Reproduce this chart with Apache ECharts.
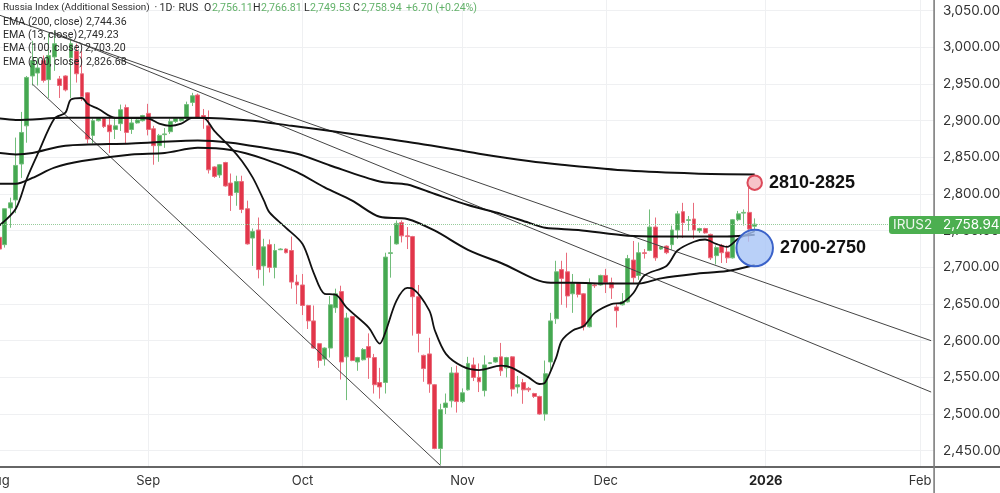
<!DOCTYPE html>
<html>
<head>
<meta charset="utf-8">
<style>
  html, body { margin: 0; padding: 0; background: #fff; }
  #chart { width: 1000px; height: 493px; }
</style>
<script src="https://cdn.jsdelivr.net/npm/echarts@6/dist/echarts.min.js"></script>
</head>
<body>
<div id="chart"></div>
<script>
// month ticks on the daily axis
const tickBars = [0, 28, 56, 85, 111, 140, 168];
const tickNames = ['Aug', 'Sep', 'Oct', 'Nov', 'Dec', '2026', 'Feb'];
const barCount = 171;
const priceTicks = [2450, 2500, 2550, 2600, 2650, 2700, 2750, 2800, 2850, 2900, 2950, 3000, 3050];

// daily candles, bar 1 to bar 138
const opens = [2741,2731,2781,2792,2841,2893,2961,2965,2982,2956,
  2987,2957,2961,2986,2995,2964,2938,2880,2900,2903,
  2894,2888,2896,2918,2888,2897,2900,2910,2889,2866,
  2881,2885,2899,2900,2903,2925,2935,2907,2893,2837,
  2826,2843,2815,2802,2817,2780,2740,2751,2702,2731,
  2700,2724,2725,2723,2680,2676,2648,2627,2596,2575,
  2590,2645,2667,2578,2633,2571,2574,2592,2577,2543,
  2543,2719,2732,2761,2743,2742,2660,2580,2582,2540,
  2453,2509,2518,2556,2517,2533,2567,2550,2532,2569,
  2571,2578,2563,2578,2537,2543,2535,2528,2524,2500,
  2571,2630,2697,2694,2664,2679,2664,2619,2676,2676,
  2689,2679,2646,2649,2653,2710,2689,2720,2723,2755,
  2725,2729,2731,2751,2776,2764,2766,2750,2753,2745,
  2716,2730,2721,2713,2765,2774,2775,2756.11];
const closes = [2725,2780,2788,2839,2884,2959,2982,2972,2955,2989,
  3005,2948,2942,3005,2964,2933,2875,2900,2904,2892,
  2885,2893,2915,2884,2897,2901,2907,2888,2866,2880,
  2882,2899,2903,2904,2922,2934,2904,2903,2833,2824,
  2840,2811,2798,2817,2779,2732,2749,2697,2728,2700,
  2723,2725,2720,2680,2676,2648,2627,2590,2573,2590,
  2649,2664,2571,2631,2573,2577,2588,2577,2540,2537,
  2714,2720,2760,2743,2742,2660,2610,2562,2541,2453,
  2506,2515,2556,2517,2529,2569,2550,2544,2567,2570,
  2577,2559,2577,2534,2540,2533,2533,2524,2500,2555,
  2627,2694,2685,2661,2679,2663,2619,2678,2675,2689,
  2679,2672,2641,2653,2712,2686,2720,2719,2755,2713,
  2728,2720,2751,2773,2761,2765,2751,2753,2747,2713,
  2727,2720,2713,2765,2773,2775,2752.24,2758.94];
const lows = [2709,2727,2754,2774,2822,2870,2948,2948,2952,2931,
  2968,2931,2940,2931,2952,2927,2869,2869,2899,2890,
  2856,2875,2886,2869,2882,2896,2899,2880,2840,2844,
  2863,2882,2897,2899,2900,2920,2903,2889,2828,2822,
  2822,2810,2777,2784,2774,2731,2702,2685,2675,2693,
  2685,2724,2719,2671,2650,2635,2616,2589,2563,2566,
  2577,2638,2547,2519,2572,2559,2573,2548,2528,2521,
  2528,2686,2731,2734,2725,2607,2584,2544,2529,2452,
  2431,2500,2509,2502,2515,2532,2545,2530,2524,2568,
  2570,2552,2550,2524,2528,2514,2530,2522,2499,2491,
  2559,2623,2649,2645,2638,2659,2614,2618,2672,2675,
  2665,2657,2618,2648,2652,2679,2683,2712,2722,2709,
  2724,2718,2724,2739,2740,2750,2739,2747,2746,2710,
  2704,2706,2706,2712,2763,2757,2735,2749.53];
const highs = [2742,2780,2795,2877,2912,2961,3009,2986,2989,3019,
  3023,2961,2962,3012,3005,2995,2939,2903,2905,2904,
  2904,2905,2922,2922,2903,2904,2908,2923,2893,2882,
  2890,2903,2904,2905,2926,2938,2937,2916,2914,2838,
  2841,2844,2828,2825,2825,2791,2753,2768,2739,2738,
  2732,2726,2726,2742,2690,2691,2649,2648,2597,2591,
  2661,2671,2675,2638,2634,2578,2590,2610,2582,2563,
  2720,2743,2764,2764,2755,2743,2676,2581,2604,2541,
  2514,2528,2564,2566,2535,2578,2577,2569,2580,2571,
  2578,2597,2578,2579,2552,2548,2537,2529,2525,2573,
  2638,2709,2709,2720,2691,2680,2665,2685,2678,2690,
  2698,2686,2650,2665,2717,2736,2734,2725,2779,2768,
  2729,2730,2757,2777,2788,2770,2788,2754,2754,2746,
  2730,2732,2730,2766,2777,2779,2815,2766.81];

// EMA lines as [bar, value]
const ema13 = [[1,2757],[4,2780],[6,2821],[8,2855],[11,2903],[13,2911],[14,2929],[16,2931],[17,2923],[19,2916],
  [22,2904],[24,2904],[28,2903],[30,2896],[32,2893],[34,2896],[36,2904],[38,2904],[40,2886],[43,2863],
  [45,2845],[47,2822],[49,2791],[50,2775],[53,2754],[56,2732],[58,2693],[60,2664],[62,2663],[64,2645],
  [68,2618],[70,2596],[71,2611],[73,2654],[75,2672],[76,2671],[79,2641],[80,2614],[82,2582],[85,2565],
  [88,2560],[92,2566],[94,2563],[97,2550],[99,2541],[100,2543],[102,2577],[103,2600],[105,2614],[107,2620],
  [109,2638],[112,2650],[114,2652],[116,2665],[118,2689],[122,2702],[124,2723],[127,2735],[129,2738],[131,2732],
  [133,2728],[135,2739],[138,2749.23]];
const ema100 = [[1,2814],[4,2814],[7,2822],[11,2836],[16,2845],[25,2854],[31,2856],[37,2863],[43,2860],[49,2848],
  [55,2830],[60,2809],[65,2791],[70,2769],[75,2766],[80,2750],[86,2724],[92,2706],[101,2679],[105,2679],
  [112,2678],[117,2678],[121,2685],[127,2691],[133,2695],[138,2703.20]];
const ema200 = [[1,2856],[4,2854],[7,2856],[13,2866],[25,2869],[37,2873],[43,2870],[49,2863],[55,2855],[61,2839],
  [70,2817],[75,2813],[80,2800],[86,2785],[92,2773],[97,2761],[100,2754],[106,2751],[115,2743],[121,2742],
  [133,2742],[138,2744.36]];
const ema500 = [[1,2903],[4,2901],[13,2904],[37,2904],[47,2900],[54,2893],[65,2882],[77,2869],[88,2855],[97,2845],
  [103,2840],[115,2832],[127,2828],[138,2826.68]];

// drawn trend lines
const trendUpper = [[1,3044],[170,2600]];
const trendMiddle = [[11,3020],[170,2530]];
const trendLower = [[7,2950],[81,2430]];

const lastClose = 2758.94;
const resistanceZone = [[138,2815.5]];
const supportZone = [[138,2726.4]];

const categories = [];
for (let i = 0; i < barCount; i++) {
  const t = tickBars.indexOf(i);
  categories.push(t >= 0 ? tickNames[t] : '');
}
// first bar sits off the left edge with nothing drawn
const candles = ['-'].concat(opens.map((o, i) => [o, closes[i], lows[i], highs[i]]));

const isMonthTick = index => tickBars.indexOf(index) >= 0;
const FONT = 'Inter, "Liberation Sans", sans-serif';
const LEGEND_FAMILY = 'Roboto, "Liberation Sans", sans-serif';
const GREEN = '#45a851';
const RED = '#e2364a';

const emaLine = (name, data, width) => ({
  name, type: 'line', data, showSymbol: false, smooth: 0.3, silent: true, z: 4,
  lineStyle: { color: '#111', width }
});
const trendLine = (name, data) => ({
  name, type: 'line', data, showSymbol: false, silent: true, z: 3,
  lineStyle: { color: '#444', width: 1 }
});
const zone = (name, data, size, fill, stroke, text, distance) => ({
  name, type: 'scatter', data, symbolSize: size, silent: true, z: 6,
  itemStyle: { color: fill, borderColor: stroke, borderWidth: 2, opacity: 1 },
  label: {
    show: true, position: 'right', distance, formatter: text,
    color: '#111', fontFamily: '"Liberation Sans", Arial, sans-serif', fontWeight: 'bold', fontSize: 18
  }
});

const legendRows = [
  ['EMA (200, close)', '2,744.36', 22, 86],
  ['EMA (13, close)', '2,749.23', 35, 78],
  ['EMA (100, close)', '2,703.20', 48, 85],
  ['EMA (500, close)', '2,826.68', 62, 86]
];
const headerParts = [
  ['Russia Index (Additional Session)', 3, '#2b2b2b', 9.9],
  ['·', 154.5, '#2b2b2b'], ['1D', 159.5, '#2b2b2b'], ['·', 172.5, '#2b2b2b'], ['RUS', 178.5, '#2b2b2b'],
  ['O', 204, '#2b2b2b'], ['2,756.11', 212, '#63b26a'],
  ['H', 253, '#2b2b2b'], ['2,766.81', 261, '#63b26a'],
  ['L', 304, '#2b2b2b'], ['2,749.53', 310, '#63b26a'],
  ['C', 353, '#2b2b2b'], ['2,758.94', 361, '#63b26a'],
  ['+6.70 (+0.24%)', 406, '#63b26a']
];
const label = (text, x, y, color, size) => ({
  type: 'text', x, y, z: 20, silent: true,
  style: { text, fill: color, font: (size || 10.6) + 'px ' + LEGEND_FAMILY, textVerticalAlign: 'middle' }
});

const graphics = [
  { type: 'rect', z: 10, silent: true, shape: { x: 0, y: 466.3, width: 1000, height: 1.4 }, style: { fill: '#333' } },
  { type: 'rect', z: 10, silent: true, shape: { x: 933.3, y: 0, width: 1.6, height: 493 }, style: { fill: '#7d7d7d' } },
  { type: 'rect', z: 12, silent: true, shape: { x: 889, y: 216, width: 111, height: 18, r: [3, 0, 0, 3] }, style: { fill: '#4caf50' } },
  { type: 'text', x: 893, y: 225, z: 13, silent: true,
    style: { text: 'IRUS2', fill: '#eef7ee', font: '13.5px ' + FONT, textVerticalAlign: 'middle' } },
  { type: 'text', x: 943, y: 225, z: 13, silent: true,
    style: { text: '2,758.94', fill: '#fff', font: '13.5px ' + FONT, textVerticalAlign: 'middle' } }
];
headerParts.forEach(p => graphics.push(label(p[0], p[1], 8, p[2], p[3])));
legendRows.forEach(r => {
  graphics.push(label(r[0], 3, r[2], '#2b2b2b'));
  graphics.push(label(r[1], r[3], r[2], '#2b2b2b'));
});

const chart = echarts.init(document.getElementById('chart'), null, { renderer: 'canvas' });
chart.setOption({
  animation: false,
  backgroundColor: '#fff',
  // the first bars run past the left edge, as in a panned chart
  grid: { left: -9, right: 66.1, top: 0, bottom: 26, outerBoundsMode: 'none' },
  xAxis: {
    type: 'category',
    data: categories,
    boundaryGap: true,
    axisLine: { show: false },
    axisTick: { show: false },
    splitLine: { show: true, interval: isMonthTick, alignWithLabel: true, lineStyle: { color: '#eff0f2', width: 1 } },
    axisLabel: {
      interval: isMonthTick,
      margin: 8,
      fontFamily: FONT,
      fontSize: 13,
      color: '#333',
      // leading spaces nudge the cut-off Aug label to the right
      formatter: value => value === '2026' ? '{b|2026}' : (value === 'Aug' ? '  Aug' : value),
      rich: { b: { fontFamily: FONT, fontSize: 13, fontWeight: 'bold', color: '#222' } }
    }
  },
  yAxis: {
    type: 'value',
    position: 'right',
    min: 2427.8,
    max: 3064.6,
    axisLine: { show: false },
    axisTick: { show: false, customValues: priceTicks },
    splitLine: { show: true, lineStyle: { color: '#eff0f2', width: 1 } },
    axisLabel: {
      customValues: priceTicks,
      margin: 9,
      fontFamily: FONT,
      fontSize: 13.5,
      color: '#333',
      formatter: v => v.toLocaleString('en-US', { minimumFractionDigits: 2, maximumFractionDigits: 2 })
    }
  },
  series: [
    {
      name: 'Russia Index',
      type: 'candlestick',
      data: candles,
      barWidth: 4.4,
      silent: true,
      z: 2,
      itemStyle: {
        color: GREEN, color0: RED,
        borderColor: '#72bd7b', borderColor0: '#e96c7c',
        borderWidth: 1
      },
      markLine: {
        silent: true,
        symbol: 'none',
        label: { show: false },
        lineStyle: { color: '#97cc9b', type: 'dotted', width: 1 },
        data: [{ yAxis: lastClose }]
      }
    },
    trendLine('Trend upper', trendUpper),
    trendLine('Trend middle', trendMiddle),
    trendLine('Trend lower', trendLower),
    emaLine('EMA 500', ema500, 2),
    emaLine('EMA 200', ema200, 2),
    emaLine('EMA 100', ema100, 2),
    emaLine('EMA 13', ema13, 1.8),
    zone('Resistance', resistanceZone, 14.5, '#f7c4c9', '#dc4a5a', '2810-2825', 6),
    zone('Support', supportZone, 36.5, 'rgba(168,196,246,0.8)', '#3a62c9', '2700-2750', 6)
  ],
  graphic: { elements: graphics }
});
</script>
</body>
</html>
